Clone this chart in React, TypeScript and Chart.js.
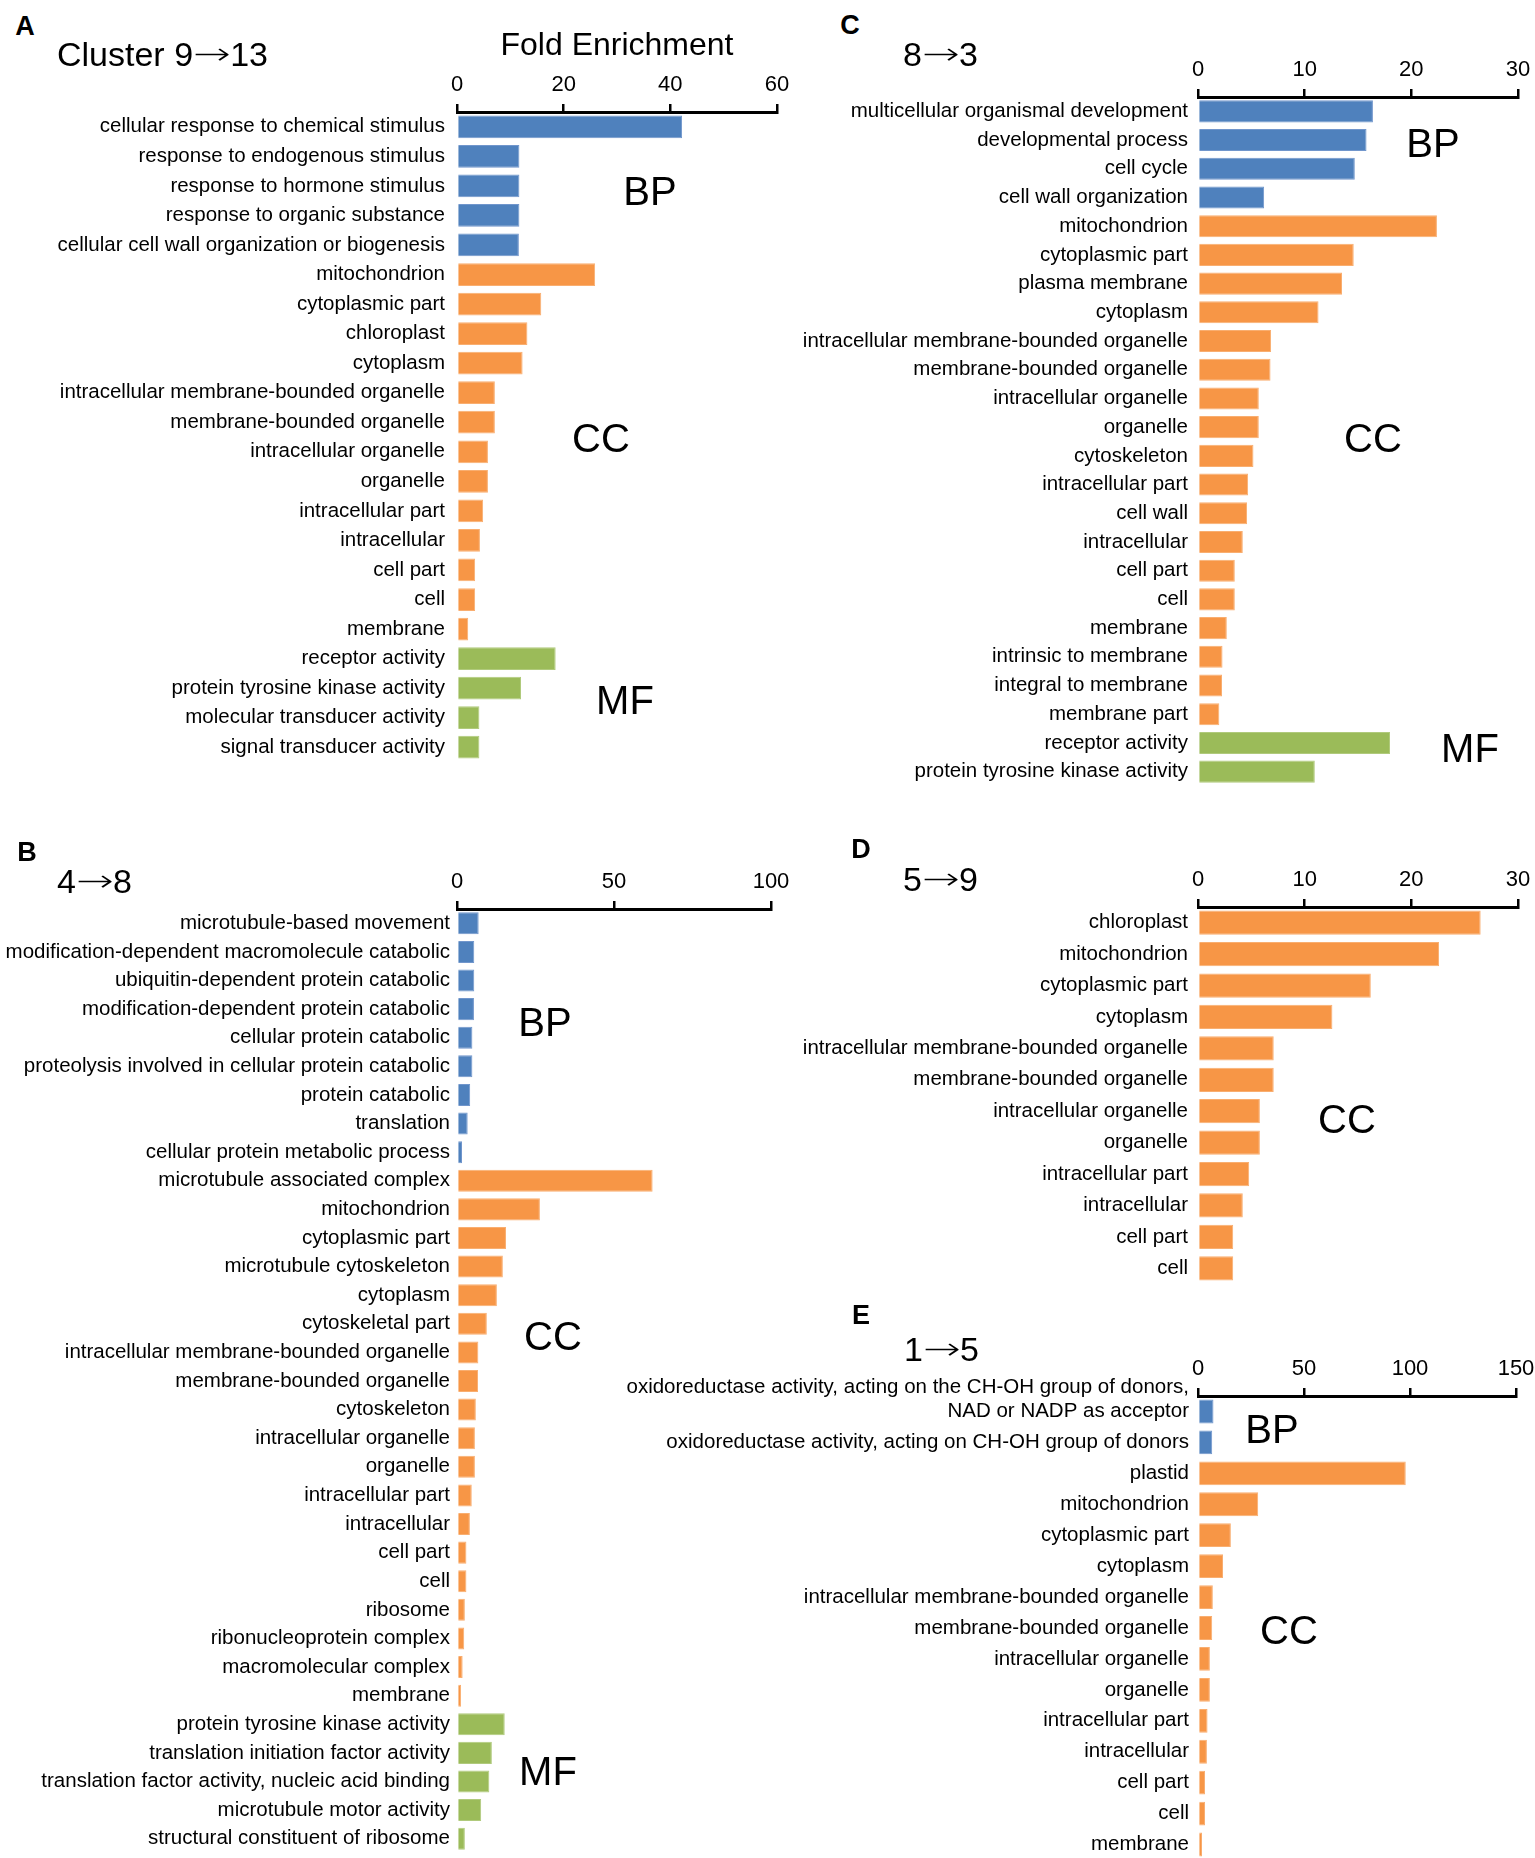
import { useEffect, useRef } from 'react'
import { Chart, registerables } from 'chart.js'
Chart.register(...registerables)

const FONT = '"Liberation Sans", Arial, Helvetica, sans-serif'
const BLUE = '#4F81BD'
const ORANGE = '#F79646'
const GREEN = '#9BBB59'
const EDGE: Record<string, string> = { [BLUE]: '#7196cc', [ORANGE]: '#f9ae70', [GREEN]: '#b0ca7c' }

// ---- A: Cluster 9→13
const labelsA = [
  'cellular response to chemical stimulus', 'response to endogenous stimulus', 'response to hormone stimulus',
  'response to organic substance', 'cellular cell wall organization or biogenesis',
  'mitochondrion', 'cytoplasmic part', 'chloroplast', 'cytoplasm', 'intracellular membrane-bounded organelle',
  'membrane-bounded organelle', 'intracellular organelle', 'organelle', 'intracellular part', 'intracellular',
  'cell part', 'cell', 'membrane',
  'receptor activity', 'protein tyrosine kinase activity', 'molecular transducer activity', 'signal transducer activity',
]
const valuesA = [42.2, 11.7, 11.7, 11.7, 11.6, 25.9, 15.8, 13.2, 12.3, 7.1, 7.1, 5.8, 5.8, 4.9, 4.3, 3.4, 3.4, 2.1, 18.5, 12.0, 4.2, 4.2]
const groupsA = [5, 13, 4] // BP, CC, MF
const ticksA = { max: 60, step: 20 }

// ---- B: 4→8
const labelsB = [
  'microtubule-based movement', 'modification-dependent macromolecule catabolic', 'ubiquitin-dependent protein catabolic',
  'modification-dependent protein catabolic', 'cellular protein catabolic', 'proteolysis involved in cellular protein catabolic',
  'protein catabolic', 'translation', 'cellular protein metabolic process',
  'microtubule associated complex', 'mitochondrion', 'cytoplasmic part', 'microtubule cytoskeleton', 'cytoplasm',
  'cytoskeletal part', 'intracellular membrane-bounded organelle', 'membrane-bounded organelle', 'cytoskeleton',
  'intracellular organelle', 'organelle', 'intracellular part', 'intracellular', 'cell part', 'cell', 'ribosome',
  'ribonucleoprotein complex', 'macromolecular complex', 'membrane',
  'protein tyrosine kinase activity', 'translation initiation factor activity', 'translation factor activity, nucleic acid binding',
  'microtubule motor activity', 'structural constituent of ribosome',
]
const valuesB = [
  6.9, 5.5, 5.5, 5.4, 4.9, 4.9, 4.2, 3.4, 1.6,
  62.3, 26.4, 15.6, 14.6, 12.7, 9.5, 6.8, 6.7, 6.0, 5.7, 5.7, 4.7, 4.1, 3.0, 3.0, 2.5, 2.3, 1.8, 1.3,
  15.2, 11.1, 10.3, 7.7, 2.5,
]
const groupsB = [9, 19, 5]
const ticksB = { max: 100, step: 50 }

// ---- C: 8→3
const labelsC = [
  'multicellular organismal development', 'developmental process', 'cell cycle', 'cell wall organization',
  'mitochondrion', 'cytoplasmic part', 'plasma membrane', 'cytoplasm', 'intracellular membrane-bounded organelle',
  'membrane-bounded organelle', 'intracellular organelle', 'organelle', 'cytoskeleton', 'intracellular part', 'cell wall',
  'intracellular', 'cell part', 'cell', 'membrane', 'intrinsic to membrane', 'integral to membrane', 'membrane part',
  'receptor activity', 'protein tyrosine kinase activity',
]
const valuesC = [16.4, 15.8, 14.7, 6.2, 22.4, 14.6, 13.5, 11.3, 6.85, 6.8, 5.7, 5.7, 5.2, 4.7, 4.6, 4.2, 3.45, 3.45, 2.7, 2.3, 2.25, 2.0, 18.0, 10.95]
const groupsC = [4, 18, 2]
const ticksC = { max: 30, step: 10 }

// ---- D: 5→9
const labelsD = [
  'chloroplast', 'mitochondrion', 'cytoplasmic part', 'cytoplasm', 'intracellular membrane-bounded organelle',
  'membrane-bounded organelle', 'intracellular organelle', 'organelle', 'intracellular part', 'intracellular', 'cell part', 'cell',
]
const valuesD = [26.5, 22.6, 16.2, 12.6, 7.1, 7.1, 5.8, 5.8, 4.8, 4.2, 3.3, 3.3]
const groupsD = [0, 12, 0]
const ticksD = { max: 30, step: 10 }

// ---- E: 1→5
const labelsE: (string | string[])[] = [
  ['oxidoreductase activity, acting on the CH-OH group of donors,', 'NAD or NADP as acceptor', ''],
  'oxidoreductase activity, acting on CH-OH group of donors',
  'plastid', 'mitochondrion', 'cytoplasmic part', 'cytoplasm', 'intracellular membrane-bounded organelle',
  'membrane-bounded organelle', 'intracellular organelle', 'organelle', 'intracellular part', 'intracellular',
  'cell part', 'cell', 'membrane',
]
const valuesE = [7.3, 6.7, 98.0, 28.4, 15.5, 11.8, 7.0, 6.7, 5.6, 5.6, 4.5, 4.2, 3.3, 3.3, 1.9]
const groupsE = [2, 13, 0]
const ticksE = { max: 150, step: 50 }

const RIGHT_PAD = 30

function groupColors(groups: number[]) {
  const out: string[] = []
  ;[BLUE, ORANGE, GREEN].forEach((c, i) => { for (let k = 0; k < groups[i]; k++) out.push(c) })
  return out
}

interface PanelProps {
  labels: (string | string[])[]
  values: number[]
  groups: number[]
  scale: { max: number; step: number }
  left: number
  top: number
  axisLeft: number
  axisTop: number
  plotWidth: number
  plotHeight: number
  labelGap: number
}

function BarPanel(p: PanelProps) {
  const canvasRef = useRef<HTMLCanvasElement>(null)
  const width = p.axisLeft + p.plotWidth + RIGHT_PAD
  const height = p.axisTop + p.plotHeight

  useEffect(() => {
    if (!canvasRef.current) return
    const colors = groupColors(p.groups)
    const chart = new Chart(canvasRef.current, {
      type: 'bar',
      data: {
        labels: p.labels,
        datasets: [{
          data: p.values,
          backgroundColor: colors,
          borderColor: colors.map(c => EDGE[c]),
          borderWidth: 1,
          barPercentage: 0.77,
          categoryPercentage: 1,
        }],
      },
      options: {
        indexAxis: 'y',
        animation: false,
        responsive: true,
        maintainAspectRatio: false,
        layout: { padding: { left: 0, top: 0, right: RIGHT_PAD, bottom: 0 } },
        plugins: { legend: { display: false }, tooltip: { enabled: false } },
        scales: {
          x: {
            position: 'top',
            min: 0,
            max: p.scale.max,
            ticks: { stepSize: p.scale.step, color: '#000', font: { family: FONT, size: 22 }, padding: 6, maxRotation: 0 },
            grid: { display: true, drawOnChartArea: false, drawTicks: true, tickLength: 8, lineWidth: 2.5, color: '#000' },
            border: { display: true, color: '#000', width: 3 },
            afterFit: (s: any) => { s.height = p.axisTop; s.paddingLeft = 0; s.paddingRight = 0 },
          },
          y: {
            ticks: { color: '#000', font: { family: FONT, size: 20.5, lineHeight: 1.2 }, padding: p.labelGap, autoSkip: false },
            grid: { display: false, drawTicks: false },
            border: { display: false },
            afterFit: (s: any) => { s.width = p.axisLeft; s.paddingTop = 0; s.paddingBottom = 0 },
          },
        },
      },
    })
    return () => { chart.destroy() }
  }, [])

  return (
    <div style={{ position: 'absolute', left: p.left, top: p.top, width, height }}>
      <canvas ref={canvasRef} />
    </div>
  )
}

function Txt({ x, y, size, text, bold = false }: { x: number; y: number; size: number; text: string; bold?: boolean }) {
  return (
    <div style={{
      position: 'absolute', left: x, top: y, fontSize: size, lineHeight: 1, fontWeight: bold ? 700 : 400,
      whiteSpace: 'nowrap', color: '#000', transform: 'translate(-50%, -50%)',
    }}>{text}</div>
  )
}

// cluster titles such as "4→8": the arrow is a long thin glyph in the original
function Title({ x, y, from, to }: { x: number; y: number; from: string; to: string }) {
  return (
    <div style={{
      position: 'absolute', left: x, top: y, fontSize: 34, lineHeight: 1, whiteSpace: 'nowrap', color: '#000',
      transform: 'translate(0, -50%)',
    }}>
      {from}
      <span style={{
        display: 'inline-block', fontFamily: '"DejaVu Sans", sans-serif', fontWeight: 200, fontSize: 30, margin: '0 6px',
        transform: 'scaleX(1.5) translateY(-2px)',
      }}>→</span>
      {to}
    </div>
  )
}

export default function App() {
  useEffect(() => { document.body.style.margin = '0' }, [])
  return (
    <div style={{ position: 'relative', width: 1535, height: 1858, overflow: 'hidden', background: '#fff', fontFamily: FONT }}>
      <BarPanel labels={labelsA} values={valuesA} groups={groupsA} scale={ticksA}
        left={0} top={60} axisLeft={457} axisTop={52} plotWidth={320} plotHeight={650} labelGap={12} />
      <BarPanel labels={labelsB} values={valuesB} groups={groupsB} scale={ticksB}
        left={0} top={850} axisLeft={457} axisTop={59} plotWidth={314} plotHeight={944} labelGap={7} />
      <BarPanel labels={labelsC} values={valuesC} groups={groupsC} scale={ticksC}
        left={760} top={40} axisLeft={438} axisTop={57} plotWidth={320} plotHeight={689} labelGap={10} />
      <BarPanel labels={labelsD} values={valuesD} groups={groupsD} scale={ticksD}
        left={760} top={850} axisLeft={438} axisTop={57} plotWidth={320} plotHeight={377} labelGap={10} />
      <BarPanel labels={labelsE} values={valuesE} groups={groupsE} scale={ticksE}
        left={600} top={1330} axisLeft={598} axisTop={66} plotWidth={318} plotHeight={464} labelGap={9} />

      <Txt x={25} y={26} size={27} bold text="A" />
      <Txt x={27} y={852} size={27} bold text="B" />
      <Txt x={850} y={25} size={27} bold text="C" />
      <Txt x={861} y={849} size={27} bold text="D" />
      <Txt x={861} y={1315} size={27} bold text="E" />

      <Title x={57} y={54} from="Cluster 9" to="13" />
      <Title x={57} y={881} from="4" to="8" />
      <Title x={903} y={54} from="8" to="3" />
      <Title x={903} y={879} from="5" to="9" />
      <Title x={904} y={1349} from="1" to="5" />
      <Txt x={617} y={44} size={32} text="Fold Enrichment" />

      <Txt x={650} y={191} size={40} text="BP" />
      <Txt x={601} y={438} size={40} text="CC" />
      <Txt x={625} y={700} size={40} text="MF" />
      <Txt x={545} y={1022} size={40} text="BP" />
      <Txt x={553} y={1336} size={40} text="CC" />
      <Txt x={548} y={1771} size={40} text="MF" />
      <Txt x={1433} y={143} size={40} text="BP" />
      <Txt x={1373} y={438} size={40} text="CC" />
      <Txt x={1470} y={748} size={40} text="MF" />
      <Txt x={1347} y={1119} size={40} text="CC" />
      <Txt x={1272} y={1429} size={40} text="BP" />
      <Txt x={1289} y={1630} size={40} text="CC" />
    </div>
  )
}
